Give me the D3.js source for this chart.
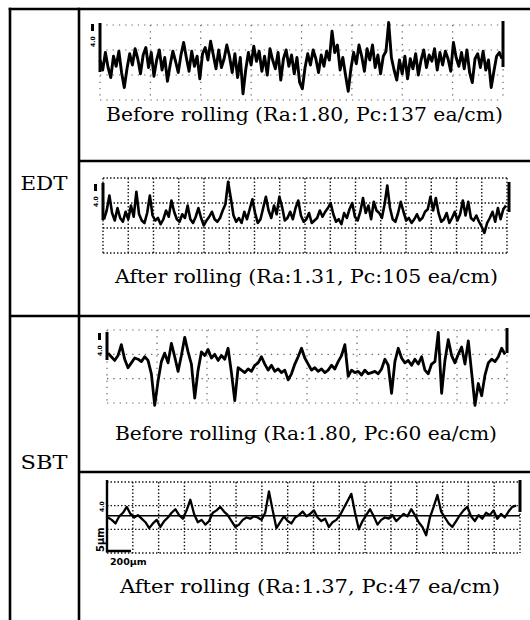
<!DOCTYPE html>
<html>
<head>
<meta charset="utf-8">
<script src="https://cdn.jsdelivr.net/npm/d3@7/dist/d3.min.js"></script>
<style>
  body { margin: 0; background: #fff; }
  svg { display: block; }
</style>
</head>
<body>
<svg width="530" height="620"></svg>
<script>
"use strict";

// row labels of the table
var grupos = ["EDT", "SBT"];

// captions under each profile
var legendas = [
    "Before rolling (Ra:1.80, Pc:137 ea/cm)",
    "After rolling (Ra:1.31, Pc:105 ea/cm)",
    "Before rolling (Ra:1.80, Pc:60 ea/cm)",
    "After rolling (Ra:1.37, Pc:47 ea/cm)"
];

// profile heights (um, around the mean line)
var edtAntes = [
    0.2, -0.6, 0.8, -0.4, -1.2, 0.5, -0.3, 0.9, -0.8, -2.0, -0.5, 0.7, -0.2, 1.1, 0.3,
    -0.9, 0.6, 1.2, -0.4, 0.8, -1.1, 0.2, 1.0, -0.6, 0.4, -1.5, -0.2, 0.9, 0.1, -0.8,
    0.6, 1.6, 0.4, -0.7, 0.9, -0.3, 0.5, -1.3, 0.7, 1.2, 0.2, 1.7, 0.6, -0.5, 1.0,
    -0.4, 0.3, 1.4, 0.5, -0.8, 0.7, -1.2, 0.4, -2.5, -0.6, 0.8, -0.2, 1.3, 0.1, 0.9,
    -0.7, 0.5, -1.0, 1.1, 0.2, -0.5, 0.8, -1.4, 0.3, 1.0, -0.3, 0.6, -0.9, 0.4, -1.6,
    -2.1, -0.4, 0.7, -0.2, 1.0, 0.3, -0.8, 0.6, -0.3, 0.9, 0.2, 2.5, 0.8, 1.4, -0.6,
    0.4, -1.0, -2.3, -0.5, 0.8, -0.1, 1.4, 0.5, -0.7, 1.1, 0.2, 1.4, -0.4, 0.6, -0.9,
    0.5, 0.9, 3.2, 0.4, -0.6, -1.4, 0.2, -0.9, 0.5, -1.3, 0.3, -0.5, 0.7, -1.0, 0.2,
    1.0, -0.4, 0.6, 0.1, 1.1, -0.6, 0.8, -0.2, 0.9, 0.3, -0.7, 1.6, 0.4, -0.3, 0.8,
    -0.5, 1.0, -0.8, -1.6, 0.3, 0.7, -0.4, 0.9, -0.6, 0.2, -2.0, -0.7, 0.5, 0.8, 0.3
];

var edtDepois = [
    -0.3, 0.4, 1.6, 0.2, -0.4, 0.6, -0.2, -0.5, 0.3, -0.3, 0.8, -0.1, 1.9, 0.1, -0.4,
    -0.6, 0.2, 1.6, 0.0, -0.4, -0.2, -0.7, -0.3, 0.4, -0.1, 1.2, 0.3, -0.3, -0.5, 0.1,
    -0.2, 0.8, -0.3, -0.6, -0.1, 0.6, -0.2, -0.8, -0.4, -0.1, 0.3, -0.3, -0.5, -0.2, 0.4,
    0.9, 2.7, 1.4, 0.0, -0.5, -0.2, -0.6, 0.3, -0.3, 0.5, 1.3, 0.2, -0.6, -0.3, 0.6,
    1.5, 0.4, -0.2, 0.8, 0.1, 1.5, 0.7, -0.4, -0.2, 0.3, -0.3, 0.6, 1.2, 0.0, -0.5,
    -0.3, 0.2, -0.6, -0.4, -0.2, 0.4, -0.1, 0.3, 0.6, 1.0, 0.1, -0.5, -0.3, -0.7, 0.2,
    -0.2, 0.5, 1.0, -0.1, -0.4, 0.3, 1.4, 0.2, 0.8, -0.3, 1.1, 0.4, 0.2, -0.2, 0.9,
    2.4, 0.6, -0.3, -0.5, 0.2, 1.1, 0.3, -0.4, -0.2, -0.6, -0.3, 0.1, -0.4, -0.2, 0.3,
    0.5, 1.5, 0.4, 1.4, 0.2, -0.5, -0.3, 0.2, -0.6, -0.2, 0.3, -0.4, 0.1, 1.2, 0.0,
    1.1, -0.2, -0.4, 0.0, -0.5, -0.9, -1.4, -0.6, -0.2, 0.3, -0.5, 0.6, -0.3, 0.5, 0.8
];

var sbtAntes = [
    1.1, 0.8, 0.5, 0.9, 1.8, 0.6, -0.1, 0.3, 0.7, 0.6, 0.4, 0.8, 0.5, -0.6, -3.2,
    -1.2, 0.4, 1.1, 0.3, 1.9, 0.8, -0.4, 0.9, 2.4, 1.2, 0.2, -2.6, -0.3, 1.2, 0.9,
    1.4, 0.7, 1.0, 0.5, 0.9, 0.6, 1.5, -0.5, -2.8, -0.1, -0.3, -0.5, -0.2, -0.4, 0.1,
    0.3, 0.8, 0.2, -0.3, 0.1, -0.4, -0.2, -0.5, -0.3, -1.1, -0.6, 0.2, 0.8, 1.5, 0.7,
    0.2, -0.3, -0.1, -0.4, -0.2, -0.5, -0.3, 0.1, -0.2, 0.4, 0.9, 1.8, -0.8, -0.3, -0.5,
    -0.4, -0.7, -0.3, -0.6, -0.5, -0.4, -0.6, -0.2, 0.6, 0.1, -2.2, 0.4, 1.5, 0.7, 0.3,
    0.5, 0.1, 0.6, 0.2, 0.8, -0.3, -0.6, 0.2, 0.4, 2.8, -2.2, 0.5, 2.2, 0.9, 0.3,
    1.0, 1.6, 0.2, 2.1, -0.5, -3.2, -1.4, -2.4, -0.7, 0.3, 0.6, 0.4, 0.8, 1.5, 1.0
];

var sbtDepois = [
    0.0, -0.2, -0.5, 0.1, 0.4, 0.9, 0.3, 0.0, 0.2, -0.1, -0.4, -0.9, -0.5, -0.2, -0.8,
    -0.3, 0.0, 0.4, 0.7, 0.2, -0.1, 0.6, 1.5, 0.3, -0.4, -0.2, -0.6, -0.3, 0.4, 0.6,
    0.9, 0.5, 0.2, -0.3, -0.8, -0.6, -0.2, 0.0, -0.1, 0.1, 0.0, -0.2, 0.4, 2.2, 0.6,
    -0.9, -0.4, 0.1, -0.3, -0.5, 0.0, 0.2, 0.5, 0.1, 0.3, 0.6, 0.0, -0.3, -0.1, -0.8,
    -0.4, -0.2, 0.2, 0.8, 1.4, 2.0, 0.4, -1.0, -0.3, 0.2, 0.7, 0.1, -0.6, -0.2, 0.0,
    -0.1, 0.2, -0.3, 0.0, 0.3, 0.1, 0.7, 0.2, -0.4, -0.8, -1.5, 0.0, 0.9, 1.9, 0.5,
    0.0, -0.5, -0.8, -0.3, 0.2, 0.6, 0.9, 0.1, -0.3, 0.2, -0.1, 0.4, 0.2, 0.6, -0.1,
    0.3, 0.0, 0.5, 0.9, 1.0
];

// height grid (um), one division = 2 um
var gradeY = [-3, -1, 1, 3];
var dominioY = [-3, 3];

var svg = d3.select("svg");
var fonteSerif = "'DejaVu Serif', 'Liberation Serif', serif";

// table frame
var tabela = svg.append("g")
    .attr("stroke", "#000")
    .attr("stroke-width", 2.6)
    .attr("fill", "none");

[[8.7, 9, 530, 9], [10, 7.7, 10, 620], [79, 7.7, 79, 620],
 [79, 161, 530, 161], [10, 316, 530, 316], [79, 472, 530, 472]]
    .forEach(function (l) {
        tabela.append("line")
            .attr("x1", l[0]).attr("y1", l[1])
            .attr("x2", l[2]).attr("y2", l[3]);
    });

svg.selectAll("text.grupo")
    .data(grupos)
    .enter().append("text")
    .attr("class", "grupo")
    .attr("x", 44)
    .attr("y", function (d, i) { return i === 0 ? 190 : 469; })
    .attr("text-anchor", "middle")
    .attr("font-family", fonteSerif)
    .attr("font-size", 19)
    .attr("textLength", 47)
    .attr("lengthAdjust", "spacingAndGlyphs")
    .text(function (d) { return d; });

// panel layout (positions only)
var paineis = [
    { dados: edtAntes, fx0: 100, fx1: 503, fy0: 25, fy1: 100, divs: 8, denso: false,
      px0: 100, px1: 502, lw: 2.9,
      leg: [106, 121, 397], esq: [23, 72], dir: [503, 21, 67] },
    { dados: edtDepois, fx0: 103, fx1: 507, fy0: 178, fy1: 253, divs: 16, denso: true,
      px0: 104, px1: 506, lw: 2.6,
      leg: [115, 283, 383], esq: [183, 220], dir: [509, 182, 212] },
    { dados: sbtAntes, fx0: 107, fx1: 507, fy0: 330, fy1: 403, divs: 8, denso: false,
      px0: 108, px1: 505, lw: 2.8,
      leg: [115, 440, 382], esq: [332, 360], dir: [507, 328, 353] },
    { dados: sbtDepois, fx0: 107, fx1: 520, fy0: 482, fy1: 553, divs: 16, denso: true,
      px0: 108, px1: 516, lw: 2.3,
      leg: [120, 593, 380], esq: null, dir: [520, 480, 512] }
];

paineis.forEach(function (p, k) {
    var g = svg.append("g");

    var x = d3.scaleLinear()
        .domain([0, p.dados.length - 1])
        .range([p.px0, p.px1]);

    var y = d3.scaleLinear()
        .domain(dominioY)
        .range([p.fy1, p.fy0]);

    var xGrade = d3.scaleLinear()
        .domain([0, p.divs])
        .range([p.fx0, p.fx1]);

    var grade = g.append("g")
        .attr("stroke", "#000")
        .attr("stroke-width", p.denso ? 1.4 : 1.2)
        .attr("stroke-dasharray", p.denso ? "1.5,2" : "1.3,5")
        .attr("opacity", p.denso ? 0.9 : 0.6);

    grade.selectAll("line.h")
        .data(gradeY)
        .enter().append("line")
        .attr("x1", p.fx0).attr("x2", p.fx1)
        .attr("y1", function (d) { return y(d); })
        .attr("y2", function (d) { return y(d); });

    grade.selectAll("line.v")
        .data(d3.range(0, p.divs + 1))
        .enter().append("line")
        .attr("y1", p.fy0).attr("y2", p.fy1)
        .attr("x1", function (d) { return xGrade(d); })
        .attr("x2", function (d) { return xGrade(d); });

    // mean line of the last trace
    if (k === 3) {
        g.append("line")
            .attr("x1", p.fx0).attr("x2", p.fx1)
            .attr("y1", y(0.15)).attr("y2", y(0.15))
            .attr("stroke", "#000")
            .attr("stroke-width", 1.6);
    }

    var linha = d3.line()
        .x(function (d, i) { return x(i); })
        .y(function (d) { return y(d); });

    g.append("path")
        .datum(p.dados)
        .attr("d", linha)
        .attr("fill", "none")
        .attr("stroke", "#000")
        .attr("stroke-width", p.lw)
        .attr("stroke-linejoin", "round");

    // left scale marks
    if (p.esq) {
        g.append("line")
            .attr("x1", p.fx0).attr("x2", p.fx0)
            .attr("y1", p.esq[0]).attr("y2", p.esq[1])
            .attr("stroke", "#000").attr("stroke-width", 3);
        g.append("rect")
            .attr("x", p.fx0 - 9).attr("y", p.esq[0] + 1)
            .attr("width", 3).attr("height", 7)
            .attr("fill", "#000");
        g.append("text")
            .attr("transform", "translate(" + (p.fx0 - 5) + "," + (p.esq[0] + 24) + ") rotate(-90)")
            .attr("font-family", "'DejaVu Sans', sans-serif")
            .attr("font-size", 6)
            .attr("font-weight", "bold")
            .text("4.0");
    } else {
        g.append("path")
            .attr("d", "M" + p.fx0 + "," + (p.fy0 - 2) + "V" + (p.fy1 - 2) + "H" + (p.fx0 + 24))
            .attr("fill", "none")
            .attr("stroke", "#000").attr("stroke-width", 2.4);
        g.append("text")
            .attr("transform", "translate(" + (p.fx0 - 3) + "," + (p.fy1 - 1) + ") rotate(-90)")
            .attr("font-family", "'DejaVu Sans', sans-serif")
            .attr("font-size", 10)
            .attr("font-weight", "bold")
            .text("5\u03bcm");
        g.append("text")
            .attr("transform", "translate(" + (p.fx0 - 3) + "," + (p.fy0 + 30) + ") rotate(-90)")
            .attr("font-family", "'DejaVu Sans', sans-serif")
            .attr("font-size", 6)
            .attr("font-weight", "bold")
            .text("4.0");
        g.append("text")
            .attr("x", p.fx0 + 3).attr("y", p.fy1 + 12)
            .attr("font-family", "'DejaVu Sans', sans-serif")
            .attr("font-size", 9.5)
            .attr("font-weight", "bold")
            .text("200\u03bcm");
    }

    // right scale mark
    g.append("line")
        .attr("x1", p.dir[0]).attr("x2", p.dir[0])
        .attr("y1", p.dir[1]).attr("y2", p.dir[2])
        .attr("stroke", "#000").attr("stroke-width", 3);

    g.append("text")
        .attr("x", p.leg[0])
        .attr("y", p.leg[1])
        .attr("font-family", fonteSerif)
        .attr("font-size", 18)
        .attr("textLength", p.leg[2])
        .attr("lengthAdjust", "spacingAndGlyphs")
        .text(legendas[k]);
});
</script>
</body>
</html>
